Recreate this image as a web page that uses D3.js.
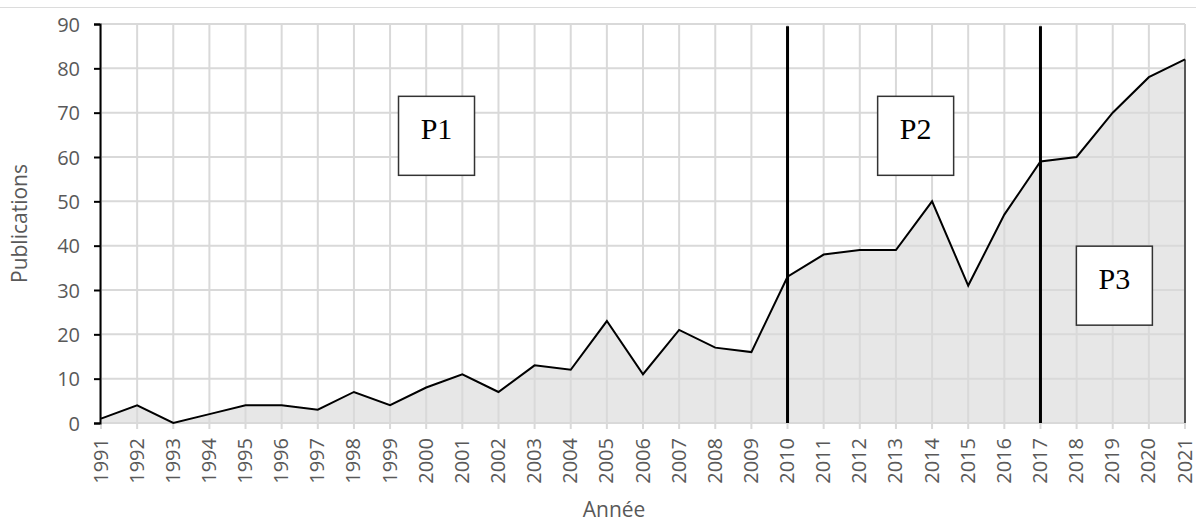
<!DOCTYPE html>
<html>
<head>
<meta charset="utf-8">
<script src="https://cdn.jsdelivr.net/npm/d3@7"></script>
<style>
body { margin: 0; background: #fff; }
svg { display: block; }
.tick text { fill: #595959; font-family: "Open Sans", "Noto Sans", sans-serif; }
</style>
</head>
<body>
<script>
// données
const annees = d3.range(1991, 2022)
const publications = [1, 4, 0, 2, 4, 4, 3, 7, 4, 8, 11, 7, 13, 12, 23, 11, 21, 17, 16, 33, 38, 39, 39, 50, 31, 47, 59, 60, 70, 78, 82]
const yTicks = [0, 10, 20, 30, 40, 50, 60, 70, 80, 90]
const separations = [2010, 2017]
const periodes = ["P1", "P2", "P3"]
const periodeAnnee = [1999.22, 2012.48, 2017.98]   // coin gauche des cadres
const periodeValeur = [73.8, 73.8, 40.0]           // haut des cadres

const width = 1196, height = 524
const margin = {top: 24, right: 11, bottom: 101, left: 101}

const svg = d3.select("body").append("svg")
  .attr("width", width)
  .attr("height", height)

// fine ligne grise en haut
svg.append("line")
  .attr("x1", 0).attr("x2", width)
  .attr("y1", 7.5).attr("y2", 7.5)
  .attr("stroke", "#dcdcdc")

const x = d3.scaleLinear()
  .domain([1991, 2021])
  .range([margin.left, width - margin.right])

const y = d3.scaleLinear()
  .domain([0, 90])
  .range([height - margin.bottom, margin.top])

const data = annees.map((a, i) => ({annee: a, n: publications[i]}))

// aire
const area = d3.area()
  .x(d => x(d.annee))
  .y0(y(0))
  .y1(d => y(d.n))

svg.append("path")
  .attr("d", area(data))
  .attr("fill", "#e7e7e7")

// grille
svg.append("g")
  .selectAll("line")
  .data(yTicks)
  .join("line")
  .attr("x1", x(1991)).attr("x2", x(2021))
  .attr("y1", d => y(d)).attr("y2", d => y(d))
  .attr("stroke", "#d9d9d9")
  .attr("stroke-width", 2)

svg.append("g")
  .selectAll("line")
  .data(annees)
  .join("line")
  .attr("x1", d => x(d)).attr("x2", d => x(d))
  .attr("y1", y(90)).attr("y2", y(0) + 6)
  .attr("stroke", "#d9d9d9")
  .attr("stroke-width", 2)

// bord droit de l'aire
svg.append("line")
  .attr("x1", x(2021)).attr("x2", x(2021))
  .attr("y1", y(publications[publications.length - 1])).attr("y2", y(0))
  .attr("stroke", "#000")
  .attr("stroke-width", 1.2)

// courbe
const line = d3.line()
  .x(d => x(d.annee))
  .y(d => y(d.n))

svg.append("path")
  .attr("d", line(data))
  .attr("fill", "none")
  .attr("stroke", "#000")
  .attr("stroke-width", 2)

// séparations des périodes
svg.append("g")
  .selectAll("line")
  .data(separations)
  .join("line")
  .attr("x1", d => x(d)).attr("x2", d => x(d))
  .attr("y1", y(89.5)).attr("y2", y(0))
  .attr("stroke", "#000")
  .attr("stroke-width", 3)

// axe y
const yAxis = svg.append("g")
  .attr("transform", "translate(" + (margin.left - 1) + ",0)")
  .call(d3.axisLeft(y).tickValues(yTicks).tickSize(6).tickPadding(14))
yAxis.select(".domain").attr("stroke", "#000").attr("stroke-width", 2)
yAxis.selectAll(".tick line").attr("stroke", "#000").attr("stroke-width", 2)
yAxis.selectAll(".tick text").style("font-size", "20px").attr("dy", "0.36em")

// axe x
const xAxis = svg.append("g")
  .attr("transform", "translate(0," + y(0) + ")")
  .call(d3.axisBottom(x).tickValues(annees).tickFormat(d3.format("d")).tickSize(0))
xAxis.select(".domain").remove()
xAxis.selectAll(".tick text")
  .style("font-size", "20px")
  .attr("transform", "rotate(-90)")
  .attr("text-anchor", "end")
  .attr("x", -15)
  .attr("y", 0)
  .attr("dy", "0.3em")

// titres des axes
svg.append("text")
  .text("Année")
  .attr("x", x(2005.2))
  .attr("y", 517)
  .attr("text-anchor", "middle")
  .attr("fill", "#595959")
  .attr("font-family", "Open Sans, Noto Sans, sans-serif")
  .style("font-size", "21px")

svg.append("text")
  .text("Publications")
  .attr("transform", "translate(27," + y(45) + ") rotate(-90)")
  .attr("text-anchor", "middle")
  .attr("fill", "#595959")
  .attr("font-family", "Open Sans, Noto Sans, sans-serif")
  .style("font-size", "21px")

// cadres P1 P2 P3
const cadres = svg.append("g")
  .selectAll("g")
  .data(periodes)
  .join("g")
  .attr("transform", (d, i) => "translate(" + x(periodeAnnee[i]) + "," + y(periodeValeur[i]) + ")")

cadres.append("rect")
  .attr("x", 0.5).attr("y", 0.5)
  .attr("width", 76).attr("height", 79)
  .attr("fill", "#fff")
  .attr("stroke", "#333")
  .attr("stroke-width", 1.5)

cadres.append("text")
  .text(d => d)
  .attr("x", 38.5)
  .attr("y", 43)
  .attr("text-anchor", "middle")
  .attr("font-family", "Liberation Serif, Times New Roman, serif")
  .style("font-size", "30px")
  .attr("fill", "#000")
</script>
</body>
</html>
